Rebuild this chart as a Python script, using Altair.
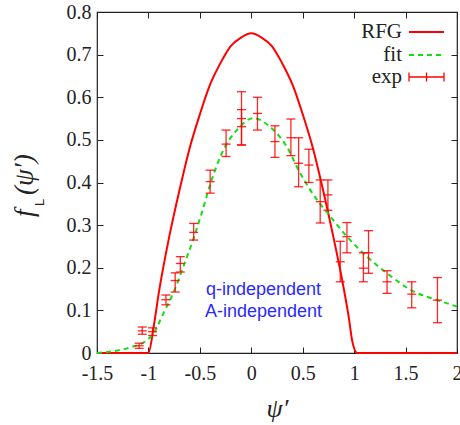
import altair as alt
import pandas as pd

# ---------------- data ----------------
rfg_x = [-1.5, -1.0, -0.95, -0.9, -0.8, -0.7, -0.6, -0.5, -0.4, -0.3, -0.2, -0.1, 0.0,
         0.1, 0.2, 0.3, 0.4, 0.5, 0.6, 0.7, 0.8, 0.9, 0.95, 0.98, 1.03, 2.0]
rfg_y = [0.0, 0.0, 0.06, 0.14, 0.27, 0.38, 0.48, 0.56, 0.63, 0.68, 0.72, 0.74, 0.75,
         0.74, 0.72, 0.68, 0.63, 0.56, 0.48, 0.38, 0.27, 0.15, 0.08, 0.03, 0.0, 0.0]

fit_x = [-1.5, -1.35, -1.18, -1.015, -0.95, -0.855, -0.76, -0.66, -0.56, -0.48, -0.40,
         -0.255, -0.14, 0.02, 0.18, 0.345, 0.475, 0.64, 0.77, 0.93, 1.125, 1.32, 1.58, 1.81, 2.0]
fit_y = [0.0, 0.004, 0.013, 0.03, 0.046, 0.093, 0.14, 0.203, 0.27, 0.33, 0.395,
         0.484, 0.523, 0.551, 0.531, 0.484, 0.422, 0.359, 0.32, 0.273, 0.226, 0.187, 0.144, 0.124, 0.109]

exp_x = [-1.09, -1.06, -0.96, -0.83, -0.74, -0.69, -0.56, -0.40, -0.245, -0.095, -0.095,
         0.06, 0.23, 0.385, 0.46, 0.56, 0.67, 0.745, 0.865, 0.93, 1.09, 1.14, 1.32, 1.56, 1.81]
exp_y = [0.017, 0.052, 0.05, 0.125, 0.17, 0.21, 0.283, 0.402, 0.49, 0.55, 0.531,
         0.562, 0.496, 0.505, 0.445, 0.441, 0.355, 0.371, 0.214, 0.273, 0.199, 0.235, 0.167, 0.138, 0.124]
exp_lo = [0.011, 0.044, 0.041, 0.113, 0.143, 0.19, 0.265, 0.375, 0.461, 0.488, 0.488,
          0.523, 0.459, 0.463, 0.39, 0.40, 0.305, 0.335, 0.167, 0.235, 0.167, 0.187, 0.14, 0.106, 0.071]
exp_hi = [0.023, 0.061, 0.059, 0.136, 0.188, 0.226, 0.304, 0.429, 0.523, 0.613, 0.571,
          0.60, 0.533, 0.549, 0.505, 0.478, 0.406, 0.406, 0.262, 0.306, 0.235, 0.287, 0.193, 0.167, 0.177]

x_ticks = [-1.5, -1, -0.5, 0, 0.5, 1, 1.5, 2]
y_ticks = [0, 0.1, 0.2, 0.3, 0.4, 0.5, 0.6, 0.7, 0.8]

note_lines = ["q-independent", "A-independent"]
note_x = [0.119, 0.119]
note_y = [0.148, 0.096]

legend_labels = ["RFG", "fit", "exp"]

# ---------------- tables ----------------
rfg_df = pd.DataFrame({"x": rfg_x, "y": rfg_y})
fit_df = pd.DataFrame({"x": fit_x, "y": fit_y})
exp_df = pd.DataFrame({"x": exp_x, "y": exp_y, "lo": exp_lo, "hi": exp_hi})
note_df = pd.DataFrame({"x": note_x, "y": note_y, "t": note_lines})
one = pd.DataFrame({"k": [0]})

W, H = 360, 341
SERIF = "Liberation Serif"
RED = "#ff0000"
GREEN = "#14dd14"
BLUE = "#2a2aff"
AX = "#222222"

xs = alt.Scale(domain=[-1.5, 2], nice=False, zero=False)
ys = alt.Scale(domain=[0, 0.8], nice=False, zero=False)

xaxis = alt.Axis(values=x_ticks, labelExpr="'' + datum.value", domain=False, grid=False,
                 offset=-6, tickSize=6, tickColor=AX, labelPadding=10, labelFlush=False,
                 labelOverlap=False,
                 labelFont=SERIF, labelFontSize=20, labelColor=AX,
                 title="ψ′", titleFont=SERIF, titleFontStyle="italic", titleFontWeight="normal",
                 titleFontSize=26, titleColor=AX, titlePadding=12)
yaxis = alt.Axis(values=y_ticks, labelExpr="'' + datum.value", domain=False, grid=False,
                 offset=-6, tickSize=6, tickColor=AX, labelPadding=6, labelFlush=False,
                 labelOverlap=False,
                 labelFont=SERIF, labelFontSize=20, labelColor=AX, title=None)

X = lambda f="x": alt.X(f"{f}:Q", scale=xs, axis=None)
Y = lambda f="y": alt.Y(f"{f}:Q", scale=ys, axis=None)

rfg = alt.Chart(rfg_df).mark_line(color=RED, strokeWidth=2, interpolate="monotone").encode(
    x=alt.X("x:Q", scale=xs, axis=xaxis), y=alt.Y("y:Q", scale=ys, axis=yaxis))

fit = alt.Chart(fit_df).mark_line(color=GREEN, strokeWidth=2, strokeDash=[5, 4],
                                  interpolate="monotone").encode(x=X(), y=Y())

bars = alt.Chart(exp_df).mark_rule(color=RED, strokeWidth=1.3, opacity=0.85).encode(
    x=X(), y=Y("lo"), y2="hi")
cap_lo = alt.Chart(exp_df).mark_rule(color=RED, strokeWidth=1.3, opacity=0.85,
                                     xOffset=-4.5, x2Offset=4.5).encode(x=X(), x2="x", y=Y("lo"))
cap_hi = alt.Chart(exp_df).mark_rule(color=RED, strokeWidth=1.3, opacity=0.85,
                                     xOffset=-4.5, x2Offset=4.5).encode(x=X(), x2="x", y=Y("hi"))
center = alt.Chart(exp_df).mark_rule(color=RED, strokeWidth=1.3, opacity=0.85,
                                     xOffset=-4.5, x2Offset=4.5).encode(x=X(), x2="x", y=Y("y"))

note = alt.Chart(note_df).mark_text(font="Liberation Sans", fontSize=18, color=BLUE,
                                    align="center", baseline="middle").encode(
    x=X(), y=Y(), text="t:N")

# legend (top right)
LX_TEXT, LX0, LX1 = 305, 312, 347
rows_y = [20, 43, 65]
leg_txt = [alt.Chart(one).mark_text(font=SERIF, fontSize=21, color=AX, align="right",
                                    baseline="middle").encode(
    x=alt.value(LX_TEXT), y=alt.value(ry), text=alt.value(lab))
    for lab, ry in zip(legend_labels, rows_y)]
leg_rfg = alt.Chart(one).mark_rule(color=RED, strokeWidth=2).encode(
    x=alt.value(LX0), x2=alt.value(LX1), y=alt.value(rows_y[0]))
leg_fit = alt.Chart(one).mark_rule(color=GREEN, strokeWidth=2, strokeDash=[5, 4]).encode(
    x=alt.value(LX0), x2=alt.value(LX1), y=alt.value(rows_y[1]))
leg_exp = alt.Chart(one).mark_rule(color=RED, strokeWidth=1.3).encode(
    x=alt.value(LX0), x2=alt.value(LX1), y=alt.value(rows_y[2]))
leg_caps = [alt.Chart(one).mark_rule(color=RED, strokeWidth=1.3).encode(
    x=alt.value(cx), y=alt.value(rows_y[2] - 4.5), y2=alt.value(rows_y[2] + 4.5))
    for cx in (LX0, (LX0 + LX1) / 2, LX1)]

# y-axis title f_L(psi')
yt_f = alt.Chart(one).mark_text(font=SERIF, fontSize=27, fontStyle="italic", color=AX,
                                angle=270, align="left", baseline="alphabetic").encode(
    x=alt.value(-64), y=alt.value(205), text=alt.value("f"))
yt_L = alt.Chart(one).mark_text(font="Liberation Sans", fontSize=13, color=AX,
                                angle=270, align="left", baseline="top").encode(
    x=alt.value(-63), y=alt.value(194), text=alt.value("L"))
yt_p = alt.Chart(one).mark_text(font=SERIF, fontSize=27, fontStyle="italic", color=AX,
                                angle=270, align="left", baseline="alphabetic").encode(
    x=alt.value(-64), y=alt.value(183), text=alt.value("(ψ′)"))

# mirrored inward ticks on top and right
mirror = alt.Chart(rfg_df).mark_point(opacity=0).encode(
    x=alt.X("x:Q", scale=xs, axis=alt.Axis(orient="top", values=x_ticks, labels=False,
                                             domain=False, grid=False, offset=-6, tickSize=6,
                                             tickColor=AX, title=None)),
    y=alt.Y("y:Q", scale=ys, axis=alt.Axis(orient="right", values=y_ticks, labels=False,
                                             domain=False, grid=False, offset=-6, tickSize=6,
                                             tickColor=AX, title=None)))

chart = alt.layer(rfg, mirror, fit, bars, cap_lo, cap_hi, center, note,
                  *leg_txt, leg_rfg, leg_fit, leg_exp, *leg_caps, yt_f, yt_L, yt_p
                  ).resolve_axis(x="independent", y="independent").properties(
    width=W, height=H,
    autosize=alt.AutoSizeParams(type="none"),
    padding={"left": 97, "top": 12, "right": 3, "bottom": 72},
    background="white",
).configure_view(stroke=AX, strokeWidth=1.2)

chart.save("out.html", embed_options={"renderer": "svg", "actions": False})
